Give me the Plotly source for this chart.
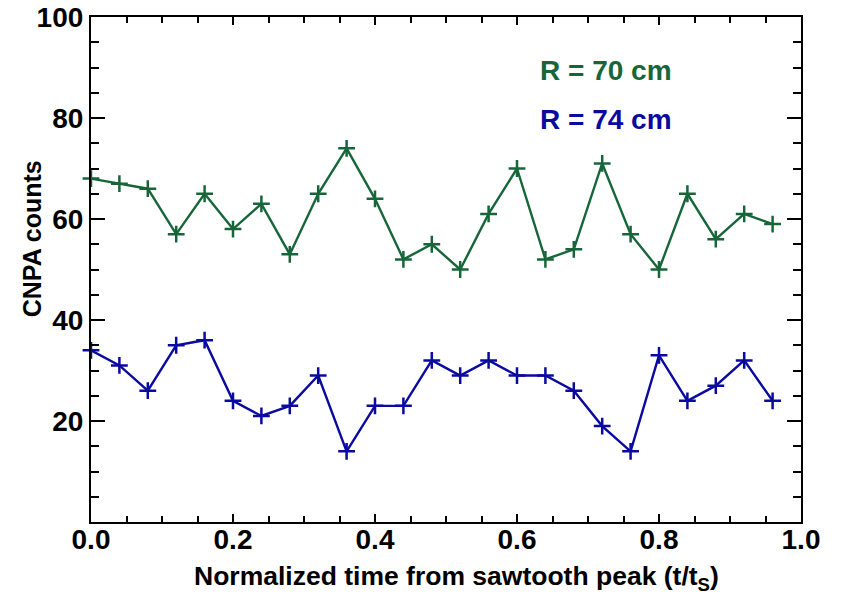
import plotly.graph_objects as go

x_vals = [0.00, 0.04, 0.08, 0.12, 0.16, 0.20, 0.24, 0.28, 0.32, 0.36, 0.40, 0.44, 0.48,
          0.52, 0.56, 0.60, 0.64, 0.68, 0.72, 0.76, 0.80, 0.84, 0.88, 0.92, 0.96]
r70_counts = [68, 67, 66, 57, 65, 58, 63, 53, 65, 74, 64, 52, 55,
              50, 61, 70, 52, 54, 71, 57, 50, 65, 56, 61, 59]
r74_counts = [34, 31, 26, 35, 36, 24, 21, 23, 29, 14, 23, 23, 32,
              29, 32, 29, 29, 26, 19, 14, 33, 24, 27, 32, 24]
y_tick_vals = [20, 40, 60, 80, 100]
x_tick_vals = [0.0, 0.2, 0.4, 0.6, 0.8, 1.0]
labels = ["R = 70 cm", "R = 74 cm"]

GREEN = "#17663a"
BLUE = "#0a0aa0"
FONT = "Liberation Sans, Arial, sans-serif"

fig = go.Figure()
for yv, col in [(r70_counts, GREEN), (r74_counts, BLUE)]:
    fig.add_trace(go.Scatter(
        x=x_vals, y=yv, mode="lines+markers",
        line=dict(color=col, width=2.4),
        marker=dict(symbol="cross-thin", size=12, line=dict(color=col, width=2.5), color=col),
        showlegend=False, cliponaxis=False))

for i, (lab, col) in enumerate(zip(labels, [GREEN, BLUE])):
    fig.add_annotation(text=lab, xref="paper", yref="paper", x=0.630, y=[0.894, 0.798][i],
                       xanchor="left", yanchor="middle", showarrow=False,
                       font=dict(family=FONT, size=28, color=col, weight="bold"))

# axis titles as text placed where the reference has them
fig.add_annotation(text="CNPA counts", xref="paper", yref="paper", x=-0.083, y=0.560,
                   xanchor="center", yanchor="middle", showarrow=False, textangle=-90,
                   font=dict(family=FONT, size=25, color="black", weight="bold"))
fig.add_annotation(text="Normalized time from sawtooth peak (t/t<sub>S</sub>)",
                   xref="paper", yref="paper", x=0.515, y=-0.111,
                   xanchor="center", yanchor="middle", showarrow=False,
                   font=dict(family=FONT, size=26.5, color="black", weight="bold"))

axis_common = dict(showline=True, linecolor="black", linewidth=2.2, mirror="ticks",
                   ticks="inside", tickcolor="black", tickwidth=2.2, showgrid=False,
                   zeroline=False, automargin=False,
                   tickfont=dict(family=FONT, size=28, color="black", weight="bold"))

fig.update_xaxes(range=[0, 1], tickvals=x_tick_vals, tickformat=".1f", ticklen=8,
                 ticklabelstandoff=-9,
                 minor=dict(dtick=0.05, ticks="inside", ticklen=6, tickcolor="black", tickwidth=2, showgrid=False),
                 **axis_common)
fig.update_yaxes(range=[0, 100], tickvals=y_tick_vals, ticklen=14,
                 minor=dict(dtick=5, tickmode="linear", tick0=0, ticks="inside", ticklen=8, tickcolor="black", tickwidth=2, showgrid=False),
                 **axis_common)

fig.update_layout(width=841, height=594, margin=dict(l=91, r=40, t=17, b=72),
                  plot_bgcolor="white", paper_bgcolor="white")
fig.write_html("out.html")
